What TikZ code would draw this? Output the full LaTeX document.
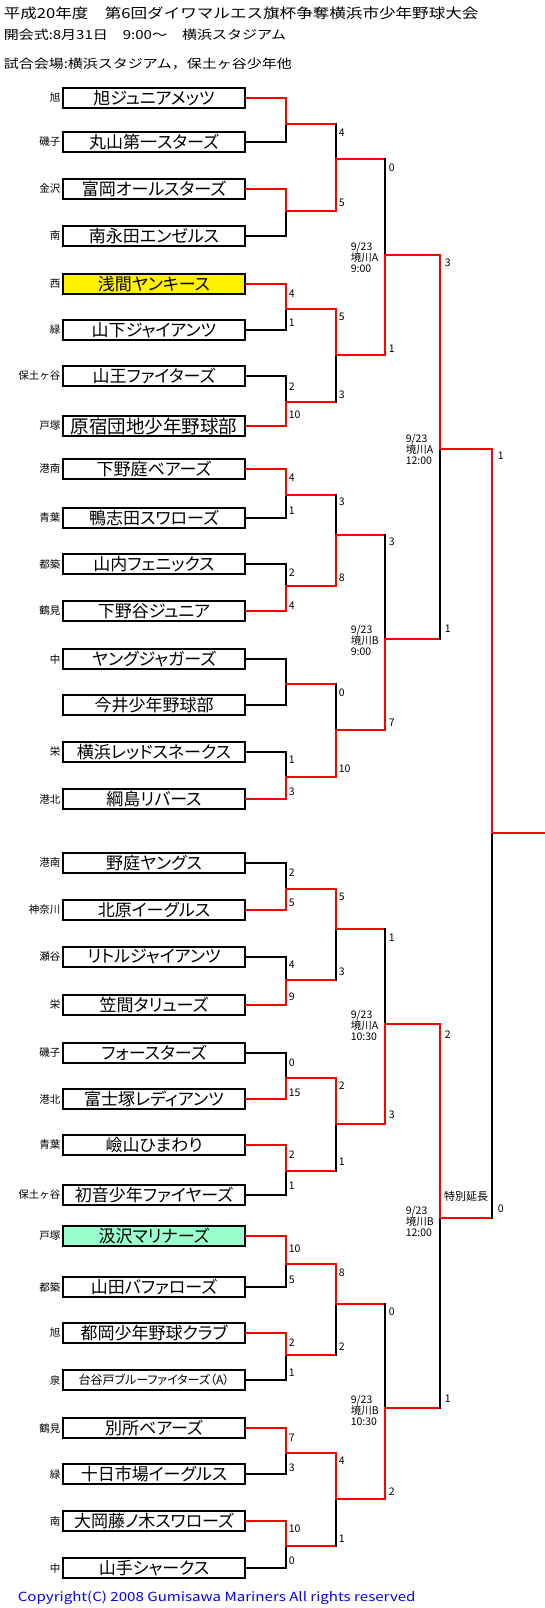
\documentclass[tikz,border=0pt]{standalone}
\usepackage{fontspec}
\setmainfont{Noto Sans CJK JP}
\newfontfamily\teamfont[RawFeature=+palt]{Noto Sans CJK JP}
\newfontfamily\headfont[FakeStretch=1.2]{Noto Sans CJK JP}
\usetikzlibrary{calc}

\begin{document}
\begin{tikzpicture}[x=1pt, y=-1pt, line width=1.5pt,
  team/.style={draw, line width=1.6pt, fill=white, minimum width=182pt, minimum height=20pt,
    inner sep=0pt, font=\teamfont\fontsize{17}{17}\selectfont},
  ward/.style={anchor=east, inner sep=0pt, font=\fontsize{10.5}{10.5}\selectfont},
  score/.style={anchor=west, inner sep=0pt, font=\fontsize{10.5}{10.5}\selectfont},
  venue/.style={anchor=west, inner sep=0pt, align=left, font=\fontsize{10.5}{11}\selectfont},
  head/.style={anchor=west, inner sep=0pt},
  win/.style={draw=red, line cap=rect},
  lose/.style={draw=black, line cap=rect}]
  \useasboundingbox (0,0) rectangle (545,1608);

  % headings
  \node[head, font=\headfont\fontsize{13.8}{13.8}\selectfont] (title) at (3,13) {平成20年度　第6回ダイワマルエス旗杯争奪横浜市少年野球大会};
  \node[head, font=\headfont\fontsize{12.5}{12.5}\selectfont] (opening) at (3,35) {開会式:8月31日　9:00～　横浜スタジアム};
  \node[head, font=\headfont\fontsize{12.5}{12.5}\selectfont] (grounds) at (3,64) {試合会場:横浜スタジアム，保土ヶ谷少年他};

  % teams, upper half
  \node[team] (t1) at (154,98) {旭ジュニアメッツ};
  \node[team] (t2) at (154,142) {丸山第一スターズ};
  \node[team] (t3) at (154,189) {富岡オールスターズ};
  \node[team] (t4) at (154,236) {南永田エンゼルス};
  \node[team, fill=yellow] (t5) at (154,284) {浅間ヤンキース};
  \node[team] (t6) at (154,330) {山下ジャイアンツ};
  \node[team] (t7) at (154,376) {山王ファイターズ};
  \node[team, font=\teamfont\fontsize{18.5}{18.5}\selectfont] (t8) at (154,426) {原宿団地少年野球部};
  \node[team] (t9) at (154,469) {下野庭ベアーズ};
  \node[team] (t10) at (154,518) {鴨志田スワローズ};
  \node[team] (t11) at (154,564) {山内フェニックス};
  \node[team] (t12) at (154,611) {下野谷ジュニア};
  \node[team] (t13) at (154,659) {ヤングジャガーズ};
  \node[team] (t14) at (154,705) {今井少年野球部};
  \node[team] (t15) at (154,752) {横浜レッドスネークス};
  \node[team] (t16) at (154,799) {綱島リバース};
  % teams, lower half
  \node[team] (t17) at (154,863) {野庭ヤングス};
  \node[team] (t18) at (154,910) {北原イーグルス};
  \node[team] (t19) at (154,957) {リトルジャイアンツ};
  \node[team] (t20) at (154,1005) {笠間タリューズ};
  \node[team] (t21) at (154,1053) {フォースターズ};
  \node[team] (t22) at (154,1099) {富士塚レディアンツ};
  \node[team] (t23) at (154,1145) {嶮山ひまわり};
  \node[team] (t24) at (154,1195) {初音少年ファイヤーズ};
  \node[team, fill={rgb,255:red,153;green,255;blue,204}] (t25) at (154,1236) {汲沢マリナーズ};
  \node[team] (t26) at (154,1287) {山田バファローズ};
  \node[team] (t27) at (154,1333) {都岡少年野球クラブ};
  \node[team, font=\teamfont\fontsize{12}{12}\selectfont] (t28) at (154,1380) {台谷戸ブルーファイターズ（A）};
  \node[team] (t29) at (154,1428) {別所ベアーズ};
  \node[team] (t30) at (154,1474) {十日市場イーグルス};
  \node[team] (t31) at (154,1521) {大岡藤ノ木スワローズ};
  \node[team] (t32) at (154,1568) {山手シャークス};

  % wards
  \node[ward] (w1) at (61,98) {旭};
  \node[ward] (w2) at (61,142) {磯子};
  \node[ward] (w3) at (61,189) {金沢};
  \node[ward] (w4) at (61,236) {南};
  \node[ward] (w5) at (61,284) {西};
  \node[ward] (w6) at (61,330) {緑};
  \node[ward] (w7) at (61,376) {保土ヶ谷};
  \node[ward] (w8) at (61,426) {戸塚};
  \node[ward] (w9) at (61,469) {港南};
  \node[ward] (w10) at (61,518) {青葉};
  \node[ward] (w11) at (61,564) {都築};
  \node[ward] (w12) at (61,611) {鶴見};
  \node[ward] (w13) at (61,659) {中};
  \node[ward] (w15) at (61,752) {栄};
  \node[ward] (w16) at (61,799) {港北};
  \node[ward] (w17) at (61,863) {港南};
  \node[ward] (w18) at (61,910) {神奈川};
  \node[ward] (w19) at (61,957) {瀬谷};
  \node[ward] (w20) at (61,1005) {栄};
  \node[ward] (w21) at (61,1053) {磯子};
  \node[ward] (w22) at (61,1099) {港北};
  \node[ward] (w23) at (61,1145) {青葉};
  \node[ward] (w24) at (61,1195) {保土ヶ谷};
  \node[ward] (w25) at (61,1236) {戸塚};
  \node[ward] (w26) at (61,1287) {都築};
  \node[ward] (w27) at (61,1333) {旭};
  \node[ward] (w28) at (61,1380) {泉};
  \node[ward] (w29) at (61,1428) {鶴見};
  \node[ward] (w30) at (61,1474) {緑};
  \node[ward] (w31) at (61,1521) {南};
  \node[ward] (w32) at (61,1568) {中};

  % junctions
  \coordinate (m1) at (286,124);  \coordinate (m2) at (286,211);
  \coordinate (m3) at (286,309);  \coordinate (m4) at (286,402);
  \coordinate (m5) at (286,495);  \coordinate (m6) at (286,586);
  \coordinate (m7) at (286,684);  \coordinate (m8) at (286,777);
  \coordinate (m9) at (286,889);  \coordinate (m10) at (286,980);
  \coordinate (m11) at (286,1078); \coordinate (m12) at (286,1171);
  \coordinate (m13) at (286,1264); \coordinate (m14) at (286,1355);
  \coordinate (m15) at (286,1453); \coordinate (m16) at (286,1546);
  \coordinate (q1) at (336,159);  \coordinate (q2) at (336,355);
  \coordinate (q3) at (336,535);  \coordinate (q4) at (336,730);
  \coordinate (q5) at (336,929);  \coordinate (q6) at (336,1124);
  \coordinate (q7) at (336,1304); \coordinate (q8) at (336,1499);
  \coordinate (s1) at (385,255);  \coordinate (s2) at (385,639);
  \coordinate (s3) at (385,1024); \coordinate (s4) at (385,1408);
  \coordinate (f1) at (440,449);  \coordinate (f2) at (440,1218);
  \coordinate (fin) at (492,833);
  \coordinate (champ) at (545,833);

  % first round
  \draw[lose] (t2.east) -| (m1);  \draw[win] (t1.east) -| (m1);
  \draw[lose] (t4.east) -| (m2);  \draw[win] (t3.east) -| (m2);
  \draw[lose] (t6.east) -| (m3);  \draw[win] (t5.east) -| (m3);
  \draw[lose] (t7.east) -| (m4);  \draw[win] (t8.east) -| (m4);
  \draw[lose] (t10.east) -| (m5); \draw[win] (t9.east) -| (m5);
  \draw[lose] (t11.east) -| (m6); \draw[win] (t12.east) -| (m6);
  \draw[lose] (t13.east) -| (m7); \draw[lose] (t14.east) -| (m7);
  \draw[lose] (t15.east) -| (m8); \draw[win] (t16.east) -| (m8);
  \draw[lose] (t17.east) -| (m9); \draw[win] (t18.east) -| (m9);
  \draw[lose] (t19.east) -| (m10); \draw[win] (t20.east) -| (m10);
  \draw[lose] (t21.east) -| (m11); \draw[win] (t22.east) -| (m11);
  \draw[lose] (t24.east) -| (m12); \draw[win] (t23.east) -| (m12);
  \draw[lose] (t26.east) -| (m13); \draw[win] (t25.east) -| (m13);
  \draw[lose] (t28.east) -| (m14); \draw[win] (t27.east) -| (m14);
  \draw[lose] (t30.east) -| (m15); \draw[win] (t29.east) -| (m15);
  \draw[lose] (t32.east) -| (m16); \draw[win] (t31.east) -| (m16);

  % second round
  \draw[win] (m1) -- (m1 -| q1); \draw[lose] (m1 -| q1) -- (q1); \draw[win] (m2) -| (q1);
  \draw[win] (m4) -- (m4 -| q2); \draw[lose] (m4 -| q2) -- (q2); \draw[win] (m3) -| (q2);
  \draw[win] (m5) -- (m5 -| q3); \draw[lose] (m5 -| q3) -- (q3); \draw[win] (m6) -| (q3);
  \draw[win] (m7) -- (m7 -| q4); \draw[lose] (m7 -| q4) -- (q4); \draw[win] (m8) -| (q4);
  \draw[win] (m10) -- (m10 -| q5); \draw[lose] (m10 -| q5) -- (q5); \draw[win] (m9) -| (q5);
  \draw[win] (m12) -- (m12 -| q6); \draw[lose] (m12 -| q6) -- (q6); \draw[win] (m11) -| (q6);
  \draw[win] (m14) -- (m14 -| q7); \draw[lose] (m14 -| q7) -- (q7); \draw[win] (m13) -| (q7);
  \draw[win] (m16) -- (m16 -| q8); \draw[lose] (m16 -| q8) -- (q8); \draw[win] (m15) -| (q8);

  % third round
  \draw[win] (q1) -- (q1 -| s1); \draw[lose] (q1 -| s1) -- (s1); \draw[win] (q2) -| (s1);
  \draw[win] (q3) -- (q3 -| s2); \draw[lose] (q3 -| s2) -- (s2); \draw[win] (q4) -| (s2);
  \draw[win] (q5) -- (q5 -| s3); \draw[lose] (q5 -| s3) -- (s3); \draw[win] (q6) -| (s3);
  \draw[win] (q7) -- (q7 -| s4); \draw[lose] (q7 -| s4) -- (s4); \draw[win] (q8) -| (s4);

  % semifinals and final
  \draw[win] (s2) -- (s2 -| f1); \draw[lose] (s2 -| f1) -- (f1); \draw[win] (s1) -| (f1);
  \draw[win] (s4) -- (s4 -| f2); \draw[lose] (s4 -| f2) -- (f2); \draw[win] (s3) -| (f2);
  \draw[win] (f2) -- (f2 -| fin); \draw[lose] (f2 -| fin) -- (fin); \draw[win] (f1) -| (fin);
  \draw[win] (fin) -- (champ);

  % scores, first round
  \node[score] (r3a) at (288,294) {4};   \node[score] (r3b) at (288,323) {1};
  \node[score] (r4a) at (288,387) {2};   \node[score] (r4b) at (288,415) {10};
  \node[score] (r5a) at (288,478) {4};   \node[score] (r5b) at (288,511) {1};
  \node[score] (r6a) at (288,573) {2};   \node[score] (r6b) at (288,606) {4};
  \node[score] (r8a) at (288,760) {1};   \node[score] (r8b) at (288,792) {3};
  \node[score] (r9a) at (288,873) {2};   \node[score] (r9b) at (288,903) {5};
  \node[score] (r10a) at (288,965) {4};  \node[score] (r10b) at (288,997) {9};
  \node[score] (r11a) at (288,1063) {0}; \node[score] (r11b) at (288,1093) {15};
  \node[score] (r12a) at (288,1155) {2}; \node[score] (r12b) at (288,1186) {1};
  \node[score] (r13a) at (288,1249) {10}; \node[score] (r13b) at (288,1280) {5};
  \node[score] (r14a) at (288,1343) {2}; \node[score] (r14b) at (288,1373) {1};
  \node[score] (r15a) at (288,1438) {7}; \node[score] (r15b) at (288,1468) {3};
  \node[score] (r16a) at (288,1529) {10}; \node[score] (r16b) at (288,1561) {0};
  % scores, second round
  \node[score] (p1a) at (338,133) {4};   \node[score] (p1b) at (338,203) {5};
  \node[score] (p2a) at (338,317) {5};   \node[score] (p2b) at (338,395) {3};
  \node[score] (p3a) at (338,502) {3};   \node[score] (p3b) at (338,578) {8};
  \node[score] (p4a) at (338,693) {0};   \node[score] (p4b) at (338,769) {10};
  \node[score] (p5a) at (338,897) {5};   \node[score] (p5b) at (338,972) {3};
  \node[score] (p6a) at (338,1086) {2};  \node[score] (p6b) at (338,1162) {1};
  \node[score] (p7a) at (338,1273) {8};  \node[score] (p7b) at (338,1347) {2};
  \node[score] (p8a) at (338,1461) {4};  \node[score] (p8b) at (338,1539) {1};
  % scores, third round and after
  \node[score] (u1a) at (388,168) {0};   \node[score] (u1b) at (388,349) {1};
  \node[score] (u2a) at (388,542) {3};   \node[score] (u2b) at (388,723) {7};
  \node[score] (u3a) at (388,938) {1};   \node[score] (u3b) at (388,1115) {3};
  \node[score] (u4a) at (388,1312) {0};  \node[score] (u4b) at (388,1492) {2};
  \node[score] (g1a) at (444,263) {3};   \node[score] (g1b) at (444,629) {1};
  \node[score] (g2a) at (444,1035) {2};  \node[score] (g2b) at (444,1399) {1};
  \node[score] (fa) at (497,456) {1};    \node[score] (fb) at (497,1209) {0};

  % dates and grounds
  \node[venue] (v1) at (350,257) {9/23\\境川A\\9:00};
  \node[venue] (v2) at (350,640) {9/23\\境川B\\9:00};
  \node[venue] (v3) at (350,1025) {9/23\\境川A\\10:30};
  \node[venue] (v4) at (350,1410) {9/23\\境川B\\10:30};
  \node[venue] (v5) at (405,449) {9/23\\境川A\\12:00};
  \node[venue] (v6) at (405,1221) {9/23\\境川B\\12:00};
  \node[font=\fontsize{11}{11}\selectfont, inner sep=0pt] (extra) at (466,1196) {特別延長};

  \node[head, text=blue, font=\headfont\fontsize{12.6}{12.6}\selectfont] (copy) at (17,1598) {Copyright(C) 2008 Gumisawa Mariners All rights reserved};
\end{tikzpicture}
\end{document}
